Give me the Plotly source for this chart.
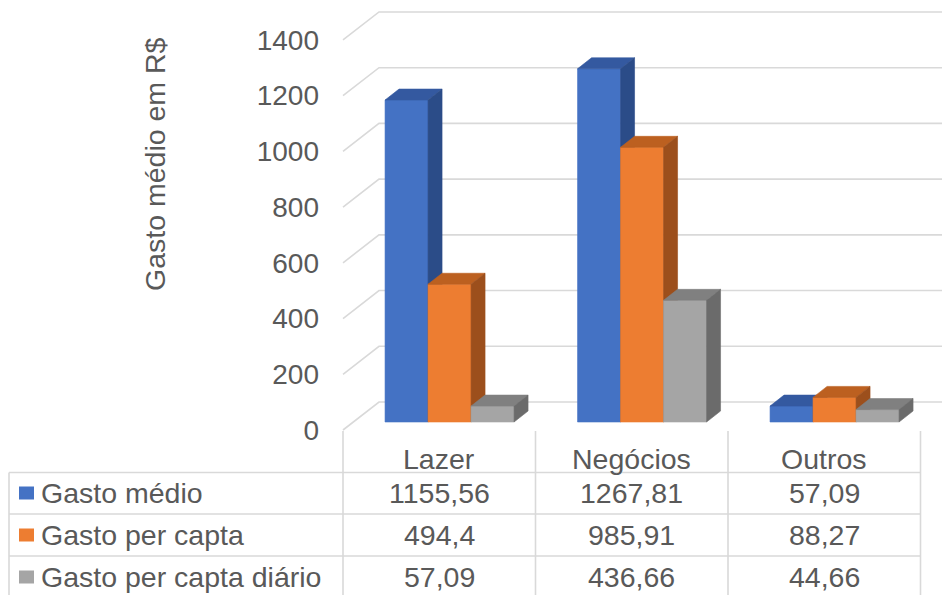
import plotly.graph_objects as go

# ---------------- data ----------------
categories = ["Lazer", "Negócios", "Outros"]
series_names = ["Gasto médio", "Gasto per capta", "Gasto per capta diário"]
gasto_medio = [1155.56, 1267.81, 57.09]
gasto_per_capta = [494.4, 985.91, 88.27]
gasto_per_capta_diario = [57.09, 436.66, 44.66]
y_ticks = [0, 200, 400, 600, 800, 1000, 1200, 1400]
y_title = "Gasto médio em R$"

series_values = [gasto_medio, gasto_per_capta, gasto_per_capta_diario]

# ---------------- style ----------------
front_colors = ["#4472C4", "#ED7D31", "#A5A5A5"]
top_colors = ["#3459A0", "#BC6020", "#808080"]
side_colors = ["#2B4C88", "#9C4F1C", "#6B6B6B"]
grid_color = "#D9D9D9"
text_color = "#595959"
FONT = "Liberation Sans, Arial, sans-serif"

PAGE_W, PAGE_H = 950, 595
OFF = 8                      # default page margin around the plot div
FW, FH = PAGE_W - OFF, PAGE_H - OFF
X0 = 343.0   # page px of front-left corner of the floor
CW = 192.5   # px per category
Y0 = 430.0   # page px of value 0 on the front plane
K = 0.2786   # px per value unit


def px2x(p):
    return (p - X0) / CW - 0.5


def py2paper(p):
    return 1 - (p - OFF) / FH


def px2paper(p):
    return (p - OFF) / FW


xmin, xmax = px2x(OFF), px2x(PAGE_W)
ymin, ymax = -(PAGE_H - Y0) / K, (Y0 - OFF) / K

# depth vectors converted to data units
DX_FULL, DY_FULL = 36 / CW, 28 / K
DX_NEAR, DY_NEAR = 10.3 / CW, 8 / K
DX_BAR, DY_BAR = 14 / CW, 11 / K
BW = 43 / CW

fig = go.Figure()

# back-wall gridlines with the left diagonal segment
gx, gy = [], []
for v in y_ticks:
    gx += [-0.5, -0.5 + DX_FULL, xmax, None]
    gy += [v, v + DY_FULL, v + DY_FULL, None]
fig.add_trace(go.Scatter(x=gx, y=gy, mode="lines",
                         line=dict(color=grid_color, width=1.6),
                         hoverinfo="skip", showlegend=False))

# 3-D bars (painted left to right)
for i, cat in enumerate(categories):
    for k, vals in enumerate(series_values):
        v = vals[i]
        x0 = i + DX_NEAR + (k - 1.5) * BW
        x1 = x0 + BW
        base = DY_NEAR
        top = base + v
        faces = [
            ([x0, x1, x1, x0, x0], [base, base, top, top, base], front_colors[k]),
            ([x0, x1, x1 + DX_BAR, x0 + DX_BAR, x0],
             [top, top, top + DY_BAR, top + DY_BAR, top], top_colors[k]),
            ([x1, x1 + DX_BAR, x1 + DX_BAR, x1, x1],
             [base, base + DY_BAR, top + DY_BAR, top, base], side_colors[k]),
        ]
        for fx, fy, col in faces:
            fig.add_trace(go.Scatter(x=fx, y=fy, mode="lines", fill="toself",
                                     fillcolor=col, line=dict(color=col, width=0.6),
                                     name=series_names[k],
                                     hovertemplate=f"{series_names[k]} - {cat}: {v}<extra></extra>",
                                     showlegend=False))

shapes = []
annotations = []

# data table lines
row_lines = [472.5, 514, 556]
for yl in row_lines:
    shapes.append(dict(type="line", xref="paper", yref="paper",
                       x0=px2paper(9), x1=px2paper(920),
                       y0=py2paper(yl), y1=py2paper(yl),
                       line=dict(color=grid_color, width=1.6)))
shapes.append(dict(type="line", xref="paper", yref="paper",
                   x0=px2paper(9), x1=px2paper(9),
                   y0=py2paper(472.5), y1=0,
                   line=dict(color=grid_color, width=1.6)))
for j in range(len(categories) + 1):
    shapes.append(dict(type="line", xref="x", yref="paper",
                       x0=j - 0.5, x1=j - 0.5,
                       y0=py2paper(431), y1=0,
                       line=dict(color=grid_color, width=1.6)))

# category header labels
for i, cat in enumerate(categories):
    annotations.append(dict(x=i, y=py2paper(459), xref="x", yref="paper",
                            text=cat, showarrow=False, xanchor="center", yanchor="middle",
                            font=dict(family=FONT, size=28.5, color=text_color)))

# table rows
row_centers = [493, 535, 577]
for k, vals in enumerate(series_values):
    yc = row_centers[k]
    shapes.append(dict(type="rect", xref="paper", yref="paper",
                       x0=px2paper(19), x1=px2paper(34),
                       y0=py2paper(yc + 6.5), y1=py2paper(yc - 6.5),
                       fillcolor=front_colors[k], line=dict(width=0)))
    annotations.append(dict(x=px2paper(39), y=py2paper(yc), xref="paper", yref="paper",
                            text=series_names[k], showarrow=False,
                            xanchor="left", yanchor="middle",
                            font=dict(family=FONT, size=28.5, color=text_color)))
    for i, v in enumerate(vals):
        annotations.append(dict(x=i, y=py2paper(yc), xref="x", yref="paper",
                                text=str(v).replace(".", ","), showarrow=False,
                                xanchor="center", yanchor="middle",
                                font=dict(family=FONT, size=28.5, color=text_color)))

# axis title
annotations.append(dict(x=px2paper(155), y=py2paper(164), xref="paper", yref="paper",
                        text=y_title, textangle=-90, showarrow=False,
                        xanchor="center", yanchor="middle",
                        font=dict(family=FONT, size=28.5, color=text_color)))

fig.update_layout(
    width=FW, height=FH,
    margin=dict(l=0, r=0, t=0, b=0),
    paper_bgcolor="white", plot_bgcolor="white",
    showlegend=False,
    xaxis=dict(range=[xmin, xmax], domain=[0, 1], showgrid=False, zeroline=False,
               showline=False, showticklabels=False, ticks="", fixedrange=True),
    yaxis=dict(range=[ymin, ymax], domain=[0, 1], anchor="free", position=(X0 - OFF) / FW,
               tickvals=y_ticks, ticktext=[str(t) for t in y_ticks],
               showgrid=False, zeroline=False, showline=False, ticks="",
               ticklabelstandoff=24,
               tickfont=dict(family=FONT, size=28, color=text_color), fixedrange=True),
    shapes=shapes,
    annotations=annotations,
)

fig.write_html("out.html")
